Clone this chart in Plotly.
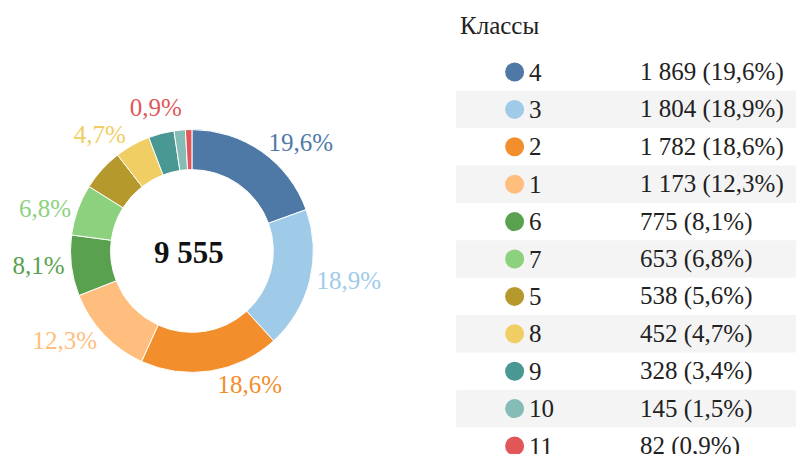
import plotly.graph_objects as go

classes = ["4", "3", "2", "1", "6", "7", "5", "8", "9", "10", "11"]
counts = [1869, 1804, 1782, 1173, 775, 653, 538, 452, 328, 145, 82]
shares = ["19,6%", "18,9%", "18,6%", "12,3%", "8,1%", "6,8%", "5,6%", "4,7%", "3,4%", "1,5%", "0,9%"]
shown = [True, True, True, True, True, True, False, True, False, False, True]
colors = ["#4e79a7", "#a0cbe8", "#f28e2b", "#ffbe7d", "#59a14f", "#8cd17d",
          "#b6992d", "#f1ce63", "#499894", "#86bcb6", "#e15759"]
total_label = "9 555"
legend_title = "Классы"

FONT = "Liberation Serif"
W, H = 804, 454
OFF = 8  # page body margin offset compensation
FS = 25

# pie geometry in screen pixels
cx, cy, r = 186.5 - OFF, 251 - OFF, 122.5


def fmt(n):
    return f"{n:,}".replace(",", " ")


fig = go.Figure()

pie_text = [f"<span style='color:{c}'>{s}</span>" if v else ""
            for s, v, c in zip(shares, shown, colors)]

fig.add_trace(go.Pie(
    labels=classes, values=counts, sort=False, direction="clockwise",
    hole=0.67, text=pie_text,
    textinfo="text", textposition="outside",
    outsidetextfont=dict(family=FONT, size=FS, color="white"),
    marker=dict(colors=colors, line=dict(color="white", width=1)),
    domain=dict(x=[(cx - r) / W, (cx + r) / W], y=[1 - (cy + r) / H, 1 - (cy - r) / H]),
    showlegend=False, hoverinfo="label+value+percent",
))

# legend table on an invisible axis expressed in screen pixels
row0, step = 72, 37.4
n = len(classes)
y_top = -(row0 - OFF) / step
y_bot = (H + OFF - row0) / step
rows = list(range(n))

fig.add_trace(go.Scatter(
    x=[512] * n, y=rows, mode="markers",
    marker=dict(size=19, color=colors, line=dict(width=0)),
    showlegend=False, hoverinfo="skip",
))

shapes = []
for i in rows:
    if i % 2 == 1:
        shapes.append(dict(type="rect", xref="x", yref="y", x0=453, x1=W + OFF,
                           y0=i - 0.5, y1=i + 0.5, fillcolor="#f4f4f4",
                           line=dict(width=0), layer="below"))

annotations = [dict(text=f"<b>{total_label}</b>", x=(cx - 2.5) / W, y=1 - (cy + 1.5) / H,
                    xref="paper", yref="paper", xanchor="center", yanchor="middle",
                    showarrow=False, font=dict(family=FONT, size=31, color="#111"))]
annotations.append(dict(text=legend_title, x=455, y=(25 - row0) / step, xref="x", yref="y",
                        xanchor="left", showarrow=False,
                        font=dict(family=FONT, size=FS, color="#222")))
for i, (c, v, s) in enumerate(zip(classes, counts, shares)):
    annotations.append(dict(text=c, x=524, y=i, xref="x", yref="y", xanchor="left",
                            showarrow=False, font=dict(family=FONT, size=FS, color="#222")))
    annotations.append(dict(text=f"{fmt(v)} ({s})", x=636, y=i, xref="x", yref="y",
                            xanchor="left", showarrow=False,
                            font=dict(family=FONT, size=FS, color="#222")))

fig.update_layout(
    width=W, height=H, margin=dict(l=0, r=0, t=0, b=0),
    paper_bgcolor="white", plot_bgcolor="rgba(0,0,0,0)",
    xaxis=dict(range=[OFF, W + OFF], visible=False, fixedrange=True),
    yaxis=dict(range=[y_bot, y_top], visible=False, fixedrange=True),
    shapes=shapes, annotations=annotations,
    font=dict(family=FONT),
)

fig.write_html("out.html")
